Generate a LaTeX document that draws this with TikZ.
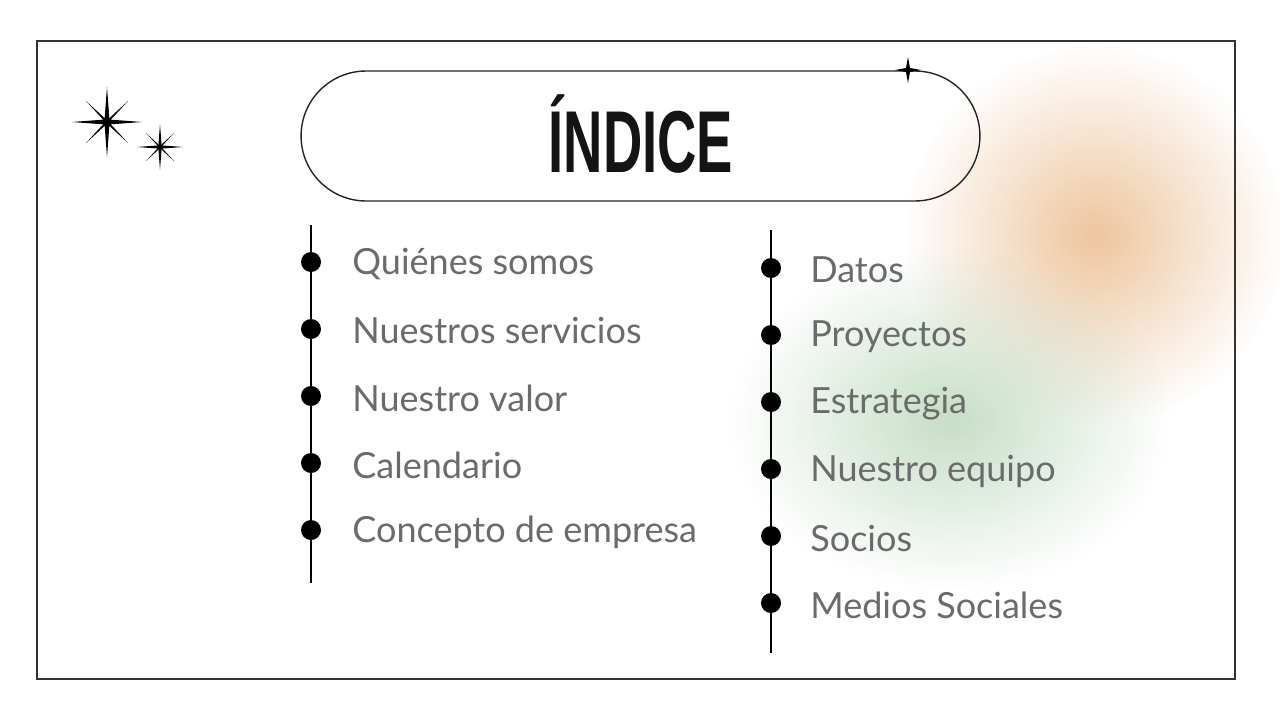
\documentclass[tikz,border=0pt]{standalone}
\usepackage{fontspec}
\usetikzlibrary{fadings}
\setmainfont{Lato}
\newfontfamily\titlefont{Liberation Sans}
\tikzfading[name=blobfade, inner color=transparent!0, outer color=transparent!100]
\begin{document}
\begin{tikzpicture}[x=0.02cm,y=-0.02cm,
  item/.style={anchor=west,text=black!58,font=\fontsize{20.5}{24}\selectfont,inner sep=0},
  dot/.style={circle,fill=black,minimum size=0.4cm,inner sep=0},
  spark/.pic={\fill[black] (0,-1) -- (0.07,-0.07) -- (1,0) -- (0.07,0.07) -- (0,1) -- (-0.07,0.07) -- (-1,0) -- (-0.07,-0.07) -- cycle;
    \fill[black] (0.6,-0.6) -- (0.05,0) -- (0.6,0.6) -- (0,0.05) -- (-0.6,0.6) -- (-0.05,0) -- (-0.6,-0.6) -- (0,-0.05) -- cycle;}]
\useasboundingbox (0,0) rectangle (1280,720);
\fill[white] (0,0) rectangle (1280,720);
\fill[orange!40!brown!45,path fading=blobfade] (1095,235) circle (190);
\fill[green!25!gray!35,path fading=blobfade] (950,420) ellipse (220 and 170);
\draw[black!80,line width=0.8pt] (37,41) rectangle (1235,679);
\node[draw=black!85,line width=0.8pt,rounded corners=1.3cm,minimum width=13.58cm,minimum height=2.6cm] (title) at (640.5,136) {};
\node[xscale=0.62,font=\titlefont\bfseries\fontsize{50}{50}\selectfont,text=black!92] (tt) at (641,134) {ÍNDICE};
\pic[scale=35] at (107,122) {spark};
\pic[scale=23] at (160,147) {spark};
\fill[black] (908,57) -- (910,68) -- (921,70) -- (910,72) -- (908,83) -- (906,72) -- (895,70) -- (906,68) -- cycle;
\coordinate (l1) at (311,225); \coordinate (l2) at (311,583);
\draw[black,line width=0.9pt] (l1) -- (l2);
\coordinate (r1) at (771,230); \coordinate (r2) at (771,653);
\draw[black,line width=0.9pt] (r1) -- (r2);
\foreach \y/\t [count=\i] in {264/Quiénes somos,331/Nuestros servicios,398/Nuestro valor,465/Calendario,532/Concepto de empresa}{
  \node[dot] (ld\i) at (311,\y-2) {};
  \node[item] (lt\i) at (352,\y) {\t};}
\foreach \y/\t [count=\i] in {270/Datos,337/Proyectos,404/Estrategia,471/Nuestro equipo,538/Socios,605/Medios Sociales}{
  \node[dot] (rd\i) at (771,\y-2) {};
  \node[item] (rt\i) at (810,\y) {\t};}
\end{tikzpicture}
\end{document}
